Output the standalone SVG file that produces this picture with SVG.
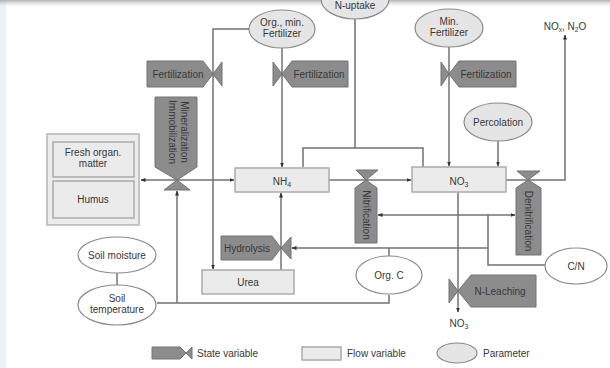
<svg xmlns="http://www.w3.org/2000/svg" width="610" height="368" viewBox="0 0 610 368">
<defs>
<style>
.sv{fill:#8c8c8c;stroke:#727272;stroke-width:1}
.fv{fill:#ebebeb;stroke:#ababab;stroke-width:1.5}
.pg{fill:#e5e5e5;stroke:#8a8a8a;stroke-width:1.2}
.pw{fill:#ffffff;stroke:#8a8a8a;stroke-width:1.2}
.ln{fill:none;stroke:#727272;stroke-width:1.5}
.ar{marker-end:url(#ah)}
.t{font-family:"Liberation Sans",Arial,sans-serif;font-size:10px;fill:#383838;text-anchor:middle}
.tl{font-family:"Liberation Sans",Arial,sans-serif;font-size:10px;fill:#383838;text-anchor:start}
</style>
<marker id="ah" viewBox="0 0 10 10" refX="9" refY="5" markerWidth="5" markerHeight="5" orient="auto-start-reverse" markerUnits="userSpaceOnUse">
<path d="M0,1 L10,5 L0,9 Z" fill="#333"/>
</marker>
<linearGradient id="topg" x1="0" y1="0" x2="0" y2="1">
<stop offset="0" stop-color="#8f8f8f" stop-opacity="0.7"/>
<stop offset="1" stop-color="#ffffff" stop-opacity="0"/>
</linearGradient>
</defs>
<rect x="0" y="0" width="610" height="368" fill="#ffffff"/>
<rect x="0" y="0" width="6" height="368" fill="#e8f3fb"/>
<rect x="0" y="0" width="610" height="8" fill="url(#topg)"/>

<g id="connectors">
<path class="ln" d="M355,18 V148 M303,167 V148 H423 V167"/>
<path class="ln ar" d="M249,29 H213 V269"/>
<path class="ln ar" d="M282,48 V167"/>
<path class="ln ar" d="M449,47 V166"/>
<path class="ln ar" d="M498,141 V166"/>
<path class="ln" d="M141,180 H234" marker-start="url(#ah)" marker-end="url(#ah)"/>
<path class="ln ar" d="M329,180 H411"/>
<path class="ln ar" d="M506,180 H565 V35"/>
<path class="ln ar" d="M281,270 V193"/>
<path class="ln ar" d="M458,192 V312"/>
<path class="ln ar" d="M488,248 H292"/>
<path class="ln" d="M545,265 H488 V215"/>
<path class="ln ar" d="M488,215 H378"/>
<path class="ln ar" d="M488,215 H515"/>
<path class="ln" d="M389,256 V248"/>
<path class="ln" d="M117,273 V285"/>
<path class="ln" d="M157,303 H389 V295"/>
<path class="ln ar" d="M177,303 V191"/>
</g>

<g id="n-uptake"><ellipse class="pg" cx="355" cy="-1" rx="34" ry="20"/><text class="t" x="355" y="9" font-size="9">N-uptake</text></g>
<g id="org-min-fertilizer"><ellipse class="pg" cx="282" cy="29" rx="33" ry="19"/><text class="t" x="282" y="26">Org., min.</text><text class="t" x="282" y="37">Fertilizer</text></g>
<g id="min-fertilizer"><ellipse class="pg" cx="449" cy="28" rx="34" ry="19"/><text class="t" x="449" y="25">Min.</text><text class="t" x="449" y="36">Fertilizer</text></g>
<g id="nox"><text class="t" x="565" y="30" font-size="9">NO<tspan dy="2" font-size="6.5">x</tspan><tspan dy="-2">, N</tspan><tspan dy="2" font-size="6.5">2</tspan><tspan dy="-2">O</tspan></text></g>

<g id="fertilization-1"><path class="sv" d="M147,61 H203 L213,74 L203,87 H147 Z"/><path class="sv" d="M213,74 L222,62 V86 Z"/><text class="t" x="178" y="78">Fertilization</text></g>
<g id="fertilization-2"><path class="sv" d="M273,62 L282,74 L273,86 Z"/><path class="sv" d="M282,74 L292,61 H348 V87 H292 Z"/><text class="t" x="319" y="78">Fertilization</text></g>
<g id="fertilization-3"><path class="sv" d="M441,62 L449,74 L441,86 Z"/><path class="sv" d="M449,74 L459,61 H516 V87 H459 Z"/><text class="t" x="486" y="78">Fertilization</text></g>

<g id="percolation"><ellipse class="pg" cx="498" cy="122" rx="34" ry="19"/><text class="t" x="498" y="126">Percolation</text></g>

<g id="soil-organic"><rect x="47" y="134" width="92" height="91" fill="#ececec" stroke="#b5b5b5" stroke-width="1.5"/>
<rect class="fv" x="53" y="142" width="81" height="35"/><text class="t" x="93" y="156">Fresh organ.</text><text class="t" x="93" y="167">matter</text>
<rect class="fv" x="53" y="181" width="81" height="37"/><text class="t" x="93" y="203">Humus</text></g>

<g id="mineralization"><path class="sv" d="M155,97 H197 V167 L177,180 L155,167 Z"/><path class="sv" d="M177,180 L190,190 H164 Z"/>
<text class="t" transform="translate(177,132) rotate(90)" x="0" y="-4">Mineralization</text>
<text class="t" transform="translate(177,132) rotate(90)" x="0" y="8">Immobilization</text></g>

<g id="nh4"><rect class="fv" x="235" y="168" width="94" height="24"/><text class="t" x="282" y="185">NH<tspan dy="2" font-size="7">4</tspan></text></g>
<g id="no3"><rect class="fv" x="412" y="167" width="94" height="25"/><text class="t" x="459" y="185">NO<tspan dy="2" font-size="7">3</tspan></text></g>

<g id="nitrification"><path class="sv" d="M366,180 L356,170 H378 Z"/><path class="sv" d="M366,180 L377,188 V243 H355 V188 Z"/><text class="t" transform="translate(366,215) rotate(90)" x="0" y="3.5">Nitrification</text></g>
<g id="denitrification"><path class="sv" d="M528,180 L517,171 H540 Z"/><path class="sv" d="M528,180 L541,188 V255 H516 V188 Z"/><text class="t" transform="translate(528.5,221) rotate(90)" x="0" y="3.5">Denitrification</text></g>

<g id="hydrolysis"><path class="sv" d="M221,236 H272 L281,248 L272,260 H221 Z"/><path class="sv" d="M281,248 L291,237 V259 Z"/><text class="t" x="247" y="252">Hydrolysis</text></g>
<g id="urea"><rect class="fv" x="202" y="270" width="92" height="24"/><text class="t" x="248" y="286">Urea</text></g>

<g id="soil-moisture"><ellipse class="pw" cx="117" cy="255" rx="39" ry="18"/><text class="t" x="117" y="259">Soil moisture</text></g>
<g id="soil-temperature"><ellipse class="pw" cx="117" cy="305" rx="39" ry="20"/><text class="t" x="117" y="302">Soil</text><text class="t" x="117" y="313">temperature</text></g>
<g id="org-c"><ellipse class="pw" cx="389" cy="275" rx="33" ry="19"/><text class="t" x="389" y="279">Org. C</text></g>
<g id="cn"><ellipse class="pw" cx="576" cy="266" rx="31" ry="18"/><text class="t" x="576" y="270">C/N</text></g>

<g id="n-leaching"><path class="sv" d="M449,279 L458,291 L449,303 Z"/><path class="sv" d="M458,291 L471,275 H536 V307 H471 Z"/><text class="t" x="500" y="295">N-Leaching</text></g>
<g id="no3-out"><text class="t" x="459" y="327">NO<tspan dy="2" font-size="7">3</tspan></text></g>

<g id="legend">
<path class="sv" d="M152,347 H180 L186,353 L180,359 H152 Z"/><path class="sv" d="M186,353 L192,347 V359 Z"/>
<text class="tl" x="197" y="357">State variable</text>
<rect class="fv" x="302" y="347" width="39" height="13"/>
<text class="tl" x="347" y="357">Flow variable</text>
<ellipse class="pg" cx="457" cy="353" rx="20" ry="10"/>
<text class="tl" x="483" y="357">Parameter</text>
</g>
</svg>
